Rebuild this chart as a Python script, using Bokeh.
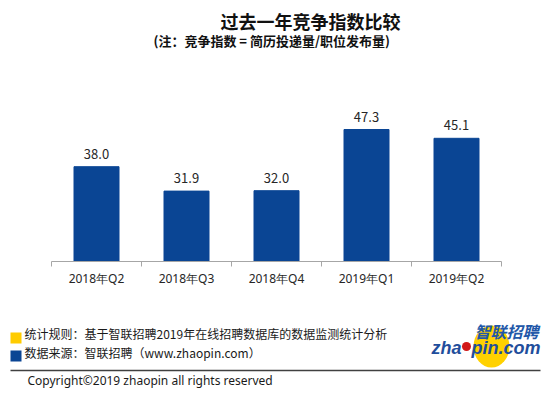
from bokeh.plotting import figure
from bokeh.layouts import column
from bokeh.models import Range1d, FixedTicker
from bokeh.core.properties import value
from bokeh.embed import file_html
from bokeh.resources import INLINE

# ---- data ----
categories = ["2018年Q2", "2018年Q3", "2018年Q4", "2019年Q1", "2019年Q2"]
index_values = [38.0, 31.9, 32.0, 47.3, 45.1]
value_labels = ["38.0", "31.9", "32.0", "47.3", "45.1"]
title_text = "过去一年竞争指数比较"
subtitle_text = "(注：竞争指数 = 简历投递量/职位发布量)"
note_lines = ["统计规则：基于智联招聘2019年在线招聘数据库的数据监测统计分析",
              "数据来源：智联招聘（www.zhaopin.com）"]
copyright_text = "Copyright©2019 zhaopin all rights reserved"

CJK = "Noto Sans CJK SC"
W = 550
BAR = "#0a4594"


def blank(h, y_top, y_bottom):
    p = figure(width=W, height=h, x_range=Range1d(0, W), y_range=Range1d(y_bottom, y_top),
               output_backend="svg", toolbar_location=None,
               x_axis_location=None, y_axis_location=None, min_border=0)
    p.outline_line_color = None
    p.grid.visible = False
    return p


# ---- title ----
pt = blank(101, 0, 101)
pt.text(x=[310], y=[20], text=[title_text], text_align="center", text_baseline="middle",
        text_font=value(CJK), text_font_style="bold", text_font_size=value("18px"), text_color="#111111")
pt.text(x=[153], y=[40], text=[subtitle_text], text_align="left", text_baseline="middle",
        text_font=value(CJK), text_font_style="bold", text_font_size=value("13px"), text_color="#111111")

# ---- chart ----
n = len(categories)
xs = [i + 1 for i in range(n)]
pc = figure(width=W, height=199, x_range=Range1d(0.5 - 51 / 90, n + 0.5 + 49 / 90),
            y_range=Range1d(14.3, 54.3),
            output_backend="svg", toolbar_location=None, y_axis_location=None,
            min_border_left=0, min_border_right=0, min_border_top=0, min_border_bottom=39)
pc.outline_line_color = None
pc.grid.visible = False
pc.vbar(x=xs, top=index_values, bottom=0, width=0.5, fill_color=BAR, line_color=BAR)
pc.text(x=xs, y=index_values, text=value_labels, text_align="center", text_baseline="bottom",
        y_offset=-8, text_font=value(CJK), text_font_size=value("13px"), text_color="#262626")
ax = pc.xaxis[0]
ax.bounds = (0.5, n + 0.5)
ax.ticker = FixedTicker(ticks=xs, minor_ticks=[i + 0.5 for i in range(n + 1)])
ax.major_label_overrides = {x: c for x, c in zip(xs, categories)}
ax.major_tick_line_color = None
ax.major_tick_out = 4
ax.major_tick_in = 0
ax.minor_tick_line_color = "#a6a6a6"
ax.minor_tick_out = 5
ax.minor_tick_in = 0
ax.axis_line_color = "#a6a6a6"
ax.major_label_standoff = 3
ax.major_label_text_font = "Noto Sans"
ax.major_label_text_font_style = "normal"
ax.major_label_text_font_size = "12px"
ax.major_label_text_color = "#262626"

# ---- footer ----
pf = blank(98, 300, 398)
pf.rect(x=[15.5, 15.5], y=[337.5, 355.5], width=11, height=11,
        fill_color=["#ffcc00", BAR], line_color=None)
pf.text(x=[24, 24], y=[333, 352], text=note_lines, text_align="left", text_baseline="middle",
        text_font=value(CJK), text_font_size=value("12px"), text_color="#1a1a1a")
pf.segment(x0=[10], y0=[370], x1=[540], y1=[370], line_color="#404040", line_width=1.3)
pf.text(x=[27], y=[380], text=[copyright_text], text_align="left", text_baseline="middle",
        text_font=value("Noto Sans"), text_font_size=value("12px"), text_color="#1a1a1a")
# logo
pf.ellipse(x=[491], y=[346], width=36, height=42, fill_color="#ffd100", line_color=None)
pf.circle(x=[466], y=[346], radius=4.5, fill_color="#d11a1a", line_color=None)
pf.text(x=[538], y=[330], text=["智联招聘"], text_align="right", text_baseline="middle",
        text_font=value(CJK), text_font_style="bold italic", text_font_size=value("16px"), text_color="#2257a8")
pf.text(x=[461], y=[347], text=["zha"], text_align="right", text_baseline="middle",
        text_font=value("Liberation Sans"), text_font_style="bold italic", text_font_size=value("18px"),
        text_color="#1f4e9c")
pf.text(x=[471], y=[347], text=["pin.com"], text_align="left", text_baseline="middle",
        text_font=value("Liberation Sans"), text_font_style="bold italic", text_font_size=value("18px"),
        text_color="#1f4e9c")

layout = column(pt, pc, pf, spacing=0)
open("out.html", "w").write(file_html(layout, INLINE))
